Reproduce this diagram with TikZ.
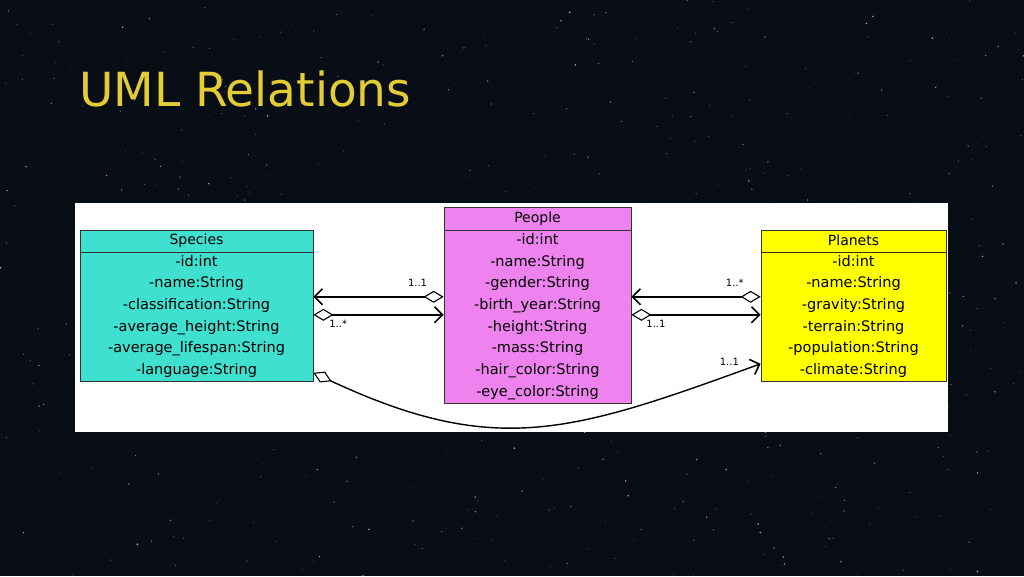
\documentclass[tikz,border=0pt]{standalone}
\usepackage{fontspec}
\setmainfont{DejaVu Sans}
\usetikzlibrary{arrows.meta, positioning}

\definecolor{nightsky}{RGB}{9,13,22}
\definecolor{titleyellow}{RGB}{226,205,52}
\definecolor{speciescol}{RGB}{64,224,208}
\definecolor{peoplecol}{RGB}{238,130,238}
\definecolor{planetscol}{RGB}{255,255,0}

\begin{document}
\begin{tikzpicture}[x=1pt, y=-1pt,
    header/.style={draw=black!80, line width=0.8pt, minimum height=22pt, inner sep=0pt,
        font=\fontsize{14}{16}\selectfont},
    attrs/.style={draw=black!80, line width=0.8pt, inner sep=0pt, align=center,
        font=\fontsize{14.5}{21.7}\selectfont},
    assoc/.style={line width=1.4pt,
        {Diamond[open,length=20pt,width=12pt,line width=1.1pt]}-{Straight Barb[length=8pt,width=16pt,line width=1.6pt]}},
    mult/.style={font=\fontsize{10}{11}\selectfont, inner sep=1pt}]

    % Night sky
    \useasboundingbox (0,0) rectangle (1024,576);
    \fill[nightsky] (0,0) rectangle (1024,576);
    \pgfmathsetseed{17}
    \foreach \i in {1,...,600}{
        \pgfmathsetmacro\sx{rnd*1024}
        \pgfmathsetmacro\sy{rnd*576}
        \pgfmathsetmacro\sr{0.25+rnd*0.7}
        \pgfmathsetmacro\so{0.15+rnd*0.6}
        \fill[white!80!cyan, opacity=\so] (\sx,\sy) circle (\sr pt);
    }

    % Title
    \node[anchor=base west, text=titleyellow, inner sep=0pt,
        font=\fontsize{47}{56}\selectfont] (title) at (79,106) {UML Relations};

    % White panel
    \fill[white] (75,203) rectangle (948,432);

    % Classes
    \node[header, fill=speciescol, minimum width=233pt] (species) at (196.5,241) {\raisebox{1.5pt}{Species}};
    \node[attrs, fill=speciescol, minimum width=233pt, minimum height=129pt,
        below=0pt of species] (species-attr)
        {-id:int\\-name:String\\-classification:String\\-average\_height:String\\-average\_lifespan:String\\-language:String\\[-16.7pt]};

    \node[header, fill=peoplecol, minimum width=187pt, minimum height=23pt] (people) at (537.5,218.5) {\raisebox{1.5pt}{People}};
    \node[attrs, fill=peoplecol, minimum width=187pt, minimum height=173pt,
        below=0pt of people] (people-attr)
        {-id:int\\-name:String\\-gender:String\\-birth\_year:String\\-height:String\\-mass:String\\-hair\_color:String\\-eye\_color:String\\[-16.7pt]};

    \node[header, fill=planetscol, minimum width=185pt] (planets) at (853.5,241) {\raisebox{1.5pt}{Planets}};
    \node[attrs, fill=planetscol, minimum width=185pt, minimum height=129pt,
        below=0pt of planets] (planets-attr)
        {-id:int\\-name:String\\-gravity:String\\-terrain:String\\-population:String\\-climate:String\\[-16.7pt]};

    % Relations
    \draw[assoc] ([yshift=20.5pt]people-attr.west) -- node[mult, pos=0.2, above=9pt] {1..1}
        ([yshift=20.5pt]species-attr.east);
    \draw[assoc] ([yshift=2.5pt]species-attr.east) -- node[mult, pos=0.19, below=4pt] {1..*}
        ([yshift=2.5pt]people-attr.west);
    \draw[assoc] ([yshift=20.5pt]planets-attr.west) -- node[mult, pos=0.2, above=9pt] {1..*}
        ([yshift=20.5pt]people-attr.east);
    \draw[assoc] ([yshift=2.5pt]people-attr.east) -- node[mult, pos=0.19, below=4pt] {1..1}
        ([yshift=2.5pt]planets-attr.west);
    \draw[assoc] ([yshift=-55.5pt]species-attr.east) to[out=-25, in=200, looseness=1.15]
        node[mult, pos=1, anchor=east, xshift=-20pt, yshift=2pt] {1..1}
        ([yshift=-46.5pt]planets-attr.west);

\end{tikzpicture}
\end{document}
